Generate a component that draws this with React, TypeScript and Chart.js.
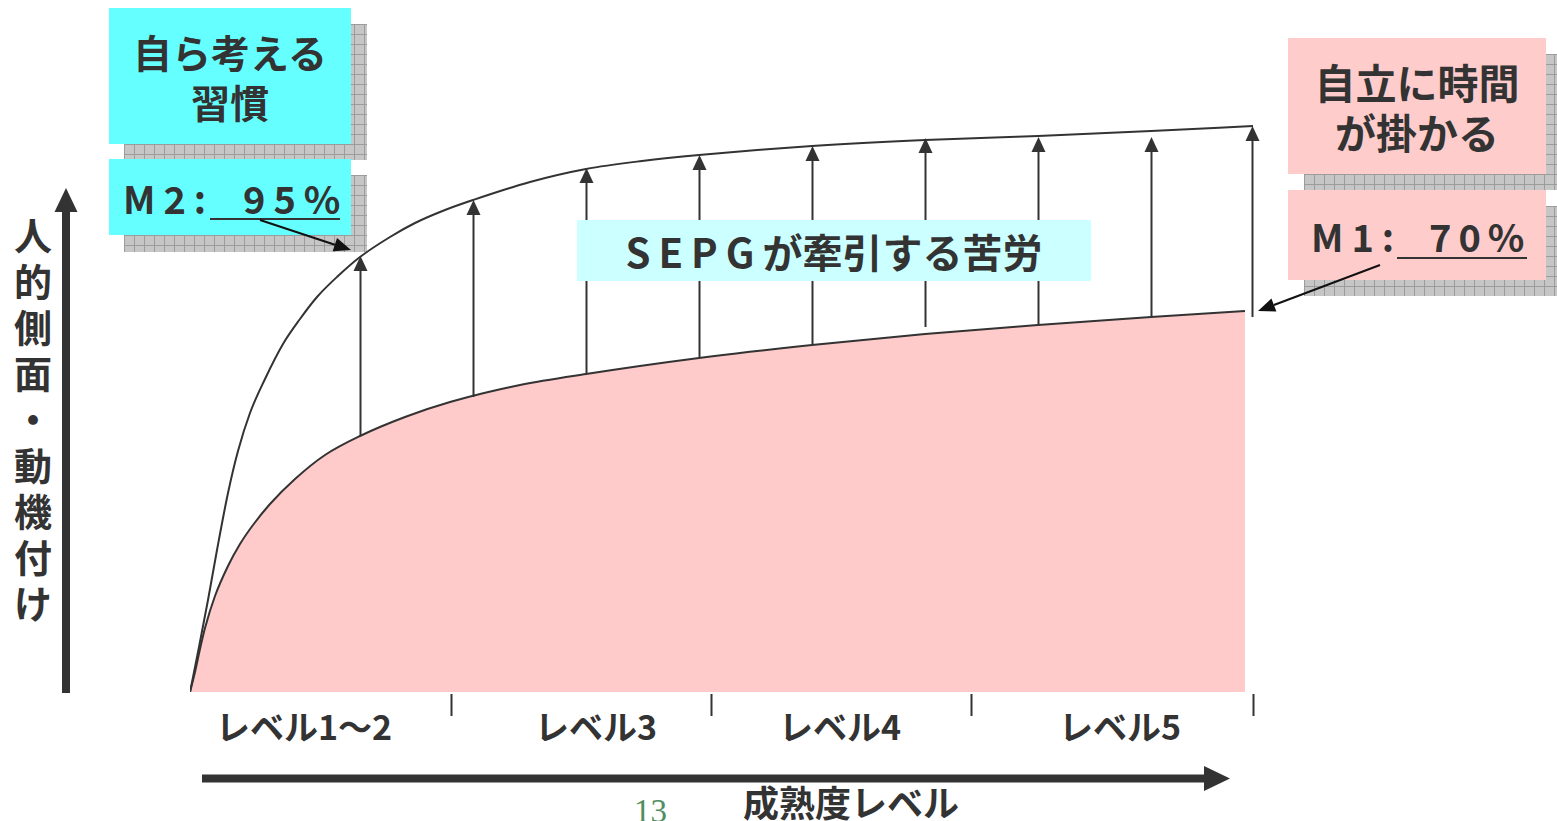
import React, { useEffect, useRef } from 'react';
import { Chart, registerables } from 'chart.js';

Chart.register(...registerables);

// ---------- data (x: progress along maturity, y: human-side / motivation) ----------
const upperX = [0, 9, 18, 27, 38, 48, 60, 75, 93, 110, 127, 148, 170, 200, 225, 255, 283, 340, 396, 452, 509, 622, 735, 848, 961, 1063];
const upperY = [0, 45, 92, 142, 199, 241, 279, 313, 348, 373, 395, 416, 435, 455, 469, 482, 492, 510, 523, 531, 537, 546, 552, 556, 561, 566];
const lowerX = [0, 5, 10, 15, 25, 38, 50, 63, 80, 105, 135, 170, 215, 260, 330, 396, 509, 622, 735, 848, 961, 1055];
const lowerY = [0, 20, 43, 64, 96, 126, 148, 167, 188, 213, 237, 256, 275, 290, 307, 318, 334, 347, 358, 367, 375, 381];

// SEPG pull arrows
const arrowX = [170, 283, 396, 509, 622, 735, 848, 961, 1062];
const arrowFrom = [256, 295, 318, 335, 348, 365, 367, 376, 375];
const arrowTo = [436, 492, 524, 537, 546, 554, 555, 555, 566];

// level boundaries and labels
const levelBounds = [261, 521, 781, 1063];
const levelLabels = ['レベル1～2', 'レベル3', 'レベル4', 'レベル5'];
const levelCenters = [114, 406, 650, 930];

const X_MIN = 0, X_MAX = 1063, Y_MIN = 0, Y_MAX = 692;
const PLOT_LEFT = 190, PLOT_RIGHT = 1253, PLOT_BOTTOM = 692;
const W = 1557, H = 821;

const FONT = '"Noto Sans CJK JP", "Noto Sans", sans-serif';
const TXT = '#333333';

function drawHead(ctx: CanvasRenderingContext2D, x0: number, y0: number, x1: number, y1: number, len: number, half: number) {
  const ang = Math.atan2(y1 - y0, x1 - x0);
  const bx = x1 - len * Math.cos(ang);
  const by = y1 - len * Math.sin(ang);
  ctx.beginPath();
  ctx.moveTo(x1, y1);
  ctx.lineTo(bx + half * Math.sin(ang), by - half * Math.cos(ang));
  ctx.lineTo(bx - half * Math.sin(ang), by + half * Math.cos(ang));
  ctx.closePath();
  ctx.fill();
  return [bx, by];
}

const overlayPlugin = {
  id: 'overlay',
  afterDatasetsDraw(chart: any) {
    const ctx: CanvasRenderingContext2D = chart.ctx;
    const xs = chart.scales.x;
    const ys = chart.scales.y;
    ctx.save();
    // vertical pull arrows
    ctx.strokeStyle = '#333';
    ctx.fillStyle = '#333';
    ctx.lineWidth = 2;
    arrowX.forEach((v, i) => {
      const px = Math.round(xs.getPixelForValue(v)) + 0.5;
      const y0 = ys.getPixelForValue(arrowFrom[i]);
      const y1 = ys.getPixelForValue(arrowTo[i]);
      ctx.beginPath();
      ctx.moveTo(px, y0);
      ctx.lineTo(px, y1 + 12);
      ctx.stroke();
      ctx.beginPath();
      ctx.moveTo(px, y1);
      ctx.lineTo(px - 7, y1 + 15);
      ctx.lineTo(px + 7, y1 + 15);
      ctx.closePath();
      ctx.fill();
    });
    // level separators
    const base = ys.getPixelForValue(0);
    levelBounds.forEach((v) => {
      const px = Math.round(xs.getPixelForValue(v)) + 0.5;
      ctx.beginPath();
      ctx.moveTo(px, base + 2);
      ctx.lineTo(px, base + 24);
      ctx.stroke();
    });
    // y axis arrow
    ctx.lineWidth = 8;
    ctx.beginPath();
    ctx.moveTo(66, base + 1);
    ctx.lineTo(66, 208);
    ctx.stroke();
    ctx.beginPath();
    ctx.moveTo(66, 188);
    ctx.lineTo(54.5, 212);
    ctx.lineTo(77.5, 212);
    ctx.closePath();
    ctx.fill();
    // x axis arrow
    ctx.beginPath();
    ctx.moveTo(202, 778.5);
    ctx.lineTo(1208, 778.5);
    ctx.stroke();
    ctx.beginPath();
    ctx.moveTo(1230, 778.5);
    ctx.lineTo(1204, 766);
    ctx.lineTo(1204, 791);
    ctx.closePath();
    ctx.fill();
    // callout arrows
    ctx.strokeStyle = '#111';
    ctx.fillStyle = '#111';
    ctx.lineWidth = 2;
    const callouts = [
      [260, 220, 351, 250],
      [1380, 265, 1258, 311],
    ];
    callouts.forEach(([a, b, c, d]) => {
      const [bx, by] = drawHead(ctx, a, b, c, d, 17, 7);
      ctx.beginPath();
      ctx.moveTo(a, b);
      ctx.lineTo(bx, by);
      ctx.stroke();
    });
    ctx.restore();
  },
};

const shadowStyle = (left: number, top: number, width: number, height: number): React.CSSProperties => ({
  position: 'absolute',
  left,
  top,
  width,
  height,
  backgroundColor: '#c6c6c6',
  backgroundImage:
    'linear-gradient(to right, #9c9c9c 1px, transparent 1px), linear-gradient(to bottom, #9c9c9c 1px, transparent 1px)',
  backgroundSize: '10px 10px',
});

const boxStyle = (left: number, top: number, width: number, height: number, bg: string): React.CSSProperties => ({
  position: 'absolute',
  left,
  top,
  width,
  height,
  background: bg,
});

const textStyle = (extra: React.CSSProperties): React.CSSProperties => ({
  position: 'absolute',
  fontFamily: FONT,
  fontWeight: 700,
  color: TXT,
  whiteSpace: 'pre',
  ...extra,
});

export default function App() {
  const canvasRef = useRef<HTMLCanvasElement | null>(null);

  useEffect(() => {
    document.body.style.margin = '0';
    const canvas = canvasRef.current;
    if (!canvas) return;
    const upperPts = upperX.map((x, i) => ({ x, y: upperY[i] }));
    const lowerPts = lowerX.map((x, i) => ({ x, y: lowerY[i] }));
    const chart = new Chart(canvas, {
      type: 'line',
      data: {
        datasets: [
          {
            data: upperPts,
            borderColor: '#333',
            borderWidth: 2,
            pointRadius: 0,
            cubicInterpolationMode: 'monotone',
            fill: false,
          },
          {
            data: lowerPts,
            borderColor: '#333',
            borderWidth: 2,
            pointRadius: 0,
            cubicInterpolationMode: 'monotone',
            fill: 'origin',
            backgroundColor: '#FECACA',
          },
        ],
      },
      options: {
        animation: false,
        responsive: false,
        events: [],
        layout: { padding: { left: PLOT_LEFT, right: W - PLOT_RIGHT, top: 0, bottom: H - PLOT_BOTTOM } },
        scales: {
          x: { type: 'linear', min: X_MIN, max: X_MAX, display: false },
          y: { type: 'linear', min: Y_MIN, max: Y_MAX, display: false },
        },
        plugins: { legend: { display: false }, tooltip: { enabled: false } },
      },
      plugins: [overlayPlugin],
    } as any);
    return () => chart.destroy();
  }, []);

  return (
    <div style={{ position: 'absolute', left: 0, top: 0, width: W, height: H, overflow: 'hidden', background: '#fff' }}>
      {/* left callouts */}
      <div style={shadowStyle(124, 24, 243, 136)} />
      <div style={boxStyle(109, 8, 242, 136, '#66FFFF')} />
      <div style={textStyle({ left: 109, top: 26, width: 242, textAlign: 'center', fontSize: 39, lineHeight: '50px' })}>
        {'自ら考える\n習慣'}
      </div>
      <div style={shadowStyle(124, 175, 243, 77)} />
      <div style={boxStyle(109, 159, 242, 76, '#66FFFF')} />
      <div style={textStyle({ left: 123, top: 179, fontSize: 38, lineHeight: '38px', letterSpacing: '8px' })}>M2:</div>
      <div style={textStyle({ left: 243, top: 179, fontSize: 38, lineHeight: '38px', letterSpacing: '8px' })}>95%</div>
      <div style={{ position: 'absolute', left: 210, top: 218, width: 130, height: 2, background: TXT }} />

      {/* right callouts */}
      <div style={shadowStyle(1304, 54, 253, 136)} />
      <div style={boxStyle(1288, 38, 258, 136, '#FFCCCC')} />
      <div style={textStyle({ left: 1288, top: 56, width: 258, textAlign: 'center', fontSize: 41, lineHeight: '50px' })}>
        {'自立に時間\nが掛かる'}
      </div>
      <div style={shadowStyle(1304, 206, 253, 90)} />
      <div style={boxStyle(1288, 190, 258, 90, '#FFCCCC')} />
      <div style={textStyle({ left: 1311, top: 217, fontSize: 38, lineHeight: '38px', letterSpacing: '8px' })}>M1:</div>
      <div style={textStyle({ left: 1429, top: 217, fontSize: 38, lineHeight: '38px', letterSpacing: '7px' })}>70%</div>
      <div style={{ position: 'absolute', left: 1397, top: 257, width: 130, height: 2, background: TXT }} />

      {/* y axis title */}
      <div
        style={textStyle({
          left: 13,
          top: 211,
          width: 40,
          fontSize: 38,
          lineHeight: '46px',
          textAlign: 'center',
          whiteSpace: 'normal',
        })}
      >
        {'人的側面・動機付け'.split('').map((c, i) => (
          <div key={i}>{c}</div>
        ))}
      </div>

      {/* level labels */}
      {levelLabels.map((l, i) => (
        <div
          key={l}
          style={textStyle({
            left: PLOT_LEFT + levelCenters[i],
            top: 709,
            transform: 'translateX(-50%)',
            fontSize: 34,
            lineHeight: '34px',
          })}
        >
          {l}
        </div>
      ))}

      <div style={textStyle({ left: 743, top: 783, fontSize: 36, lineHeight: '36px' })}>成熟度レベル</div>
      <div
        style={{
          position: 'absolute',
          left: 634,
          top: 795,
          fontFamily: '"Liberation Serif", serif',
          fontSize: 33,
          lineHeight: '33px',
          color: '#4f8f5f',
        }}
      >
        13
      </div>

      <canvas ref={canvasRef} width={W} height={H} style={{ position: 'absolute', left: 0, top: 0 }} />

      {/* SEPG box above arrows */}
      <div style={boxStyle(577, 220, 514, 61, '#CCFFFF')} />
      <div style={textStyle({ left: 577, top: 229, width: 514, textAlign: 'center', fontSize: 40, lineHeight: '44px' })}>
        <span style={{ letterSpacing: '8px' }}>SEPG</span>が牽引する苦労
      </div>
    </div>
  );
}
